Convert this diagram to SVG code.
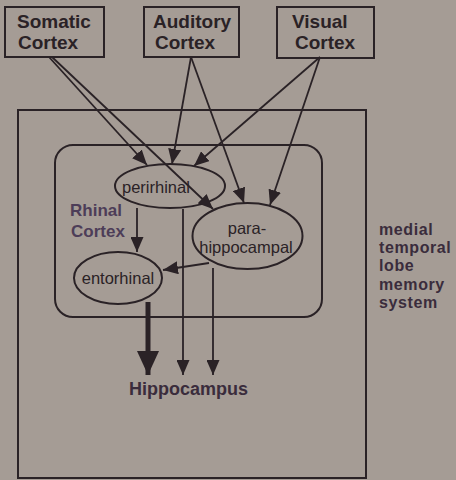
<svg xmlns="http://www.w3.org/2000/svg" width="456" height="480" viewBox="0 0 456 480">
  <style>
    .bg { fill: #a59c95; }
    .box { fill: none; stroke: #2a2226; stroke-width: 2; }
    .ell { fill: none; stroke: #2a2226; stroke-width: 2; }
    .lbl { font-family: "Liberation Sans", Arial, sans-serif; font-weight: bold; font-size: 19px; fill: #2a2226; }
    .area { font-family: "Liberation Sans", Arial, sans-serif; font-size: 16.5px; fill: #2a2226; }
    .rhinal { font-family: "Liberation Sans", Arial, sans-serif; font-weight: bold; font-size: 17px; fill: #4d3d58; }
    .mtl { font-family: "Liberation Sans", Arial, sans-serif; font-weight: bold; font-size: 16px; letter-spacing: 0.6px; fill: #3a2c3c; }
    .hip { font-family: "Liberation Sans", Arial, sans-serif; font-weight: bold; font-size: 18px; fill: #3a2c3c; }
    .link { stroke: #2a2226; stroke-width: 1.8; fill: none; marker-end: url(#arrow); }
    .thick { stroke: #2a2226; stroke-width: 5; fill: none; marker-end: url(#bigarrow); }
  </style>
  <defs>
    <marker id="arrow" viewBox="0 0 15 13" markerWidth="15" markerHeight="13" refX="15" refY="6.5" orient="auto" markerUnits="userSpaceOnUse">
      <path d="M0,0 L15,6.5 L0,13 z" fill="#2a2226"/>
    </marker>
    <marker id="bigarrow" viewBox="0 0 24 22" markerWidth="24" markerHeight="22" refX="24" refY="11" orient="auto" markerUnits="userSpaceOnUse">
      <path d="M0,0 L24,11 L0,22 z" fill="#2a2226"/>
    </marker>
  </defs>

  <rect class="bg" x="0" y="0" width="456" height="480"/>

  <!-- medial temporal lobe frame -->
  <g id="mtl-system">
    <rect class="box" x="18" y="110" width="348" height="368"/>
    <text class="mtl" x="379" y="235">medial</text>
    <text class="mtl" x="379" y="253">temporal</text>
    <text class="mtl" x="379" y="271">lobe</text>
    <text class="mtl" x="379" y="290">memory</text>
    <text class="mtl" x="379" y="308">system</text>
  </g>

  <!-- rhinal cortex region -->
  <g id="rhinal-cortex">
    <rect class="box" x="55" y="145" width="267" height="172" rx="18" ry="18"/>
    <text class="rhinal" x="70" y="216">Rhinal</text>
    <text class="rhinal" x="71" y="237">Cortex</text>
  </g>

  <!-- cortical inputs -->
  <g id="somatic-cortex">
    <rect class="box" x="5" y="7" width="99" height="50"/>
    <text class="lbl" x="17" y="28">Somatic</text>
    <text class="lbl" x="18" y="49">Cortex</text>
  </g>
  <g id="auditory-cortex">
    <rect class="box" x="144" y="7" width="95" height="50"/>
    <text class="lbl" x="153" y="28">Auditory</text>
    <text class="lbl" x="155" y="49">Cortex</text>
  </g>
  <g id="visual-cortex">
    <rect class="box" x="277" y="7" width="97" height="51"/>
    <text class="lbl" x="292" y="28">Visual</text>
    <text class="lbl" x="295" y="49">Cortex</text>
  </g>

  <!-- rhinal areas -->
  <g id="perirhinal">
    <ellipse class="ell" cx="170" cy="186" rx="55" ry="22"/>
    <text class="area" x="122" y="193">perirhinal</text>
  </g>
  <g id="parahippocampal">
    <ellipse class="ell" cx="247.5" cy="236" rx="55" ry="33"/>
    <text class="area" x="247" y="234" text-anchor="middle">para-</text>
    <text class="area" x="246" y="253" text-anchor="middle">hippocampal</text>
  </g>
  <g id="entorhinal">
    <ellipse class="ell" cx="118" cy="278" rx="44" ry="26"/>
    <text class="area" x="118" y="284" text-anchor="middle">entorhinal</text>
  </g>

  <g id="hippocampus">
    <text class="hip" x="129" y="395">Hippocampus</text>
  </g>

  <!-- projections -->
  <g id="connectors">
    <line class="link" x1="49" y1="57" x2="147" y2="165"/>
    <line class="link" x1="52" y1="57" x2="213" y2="209"/>
    <line class="link" x1="191" y1="57" x2="172" y2="164"/>
    <line class="link" x1="191" y1="57" x2="244" y2="203"/>
    <line class="link" x1="320" y1="57" x2="194" y2="166"/>
    <line class="link" x1="320" y1="57" x2="270" y2="205"/>
    <line class="link" x1="137" y1="208" x2="137" y2="252"/>
    <line class="link" x1="209" y1="263" x2="163" y2="270"/>
    <line class="link" x1="183" y1="209" x2="183" y2="375"/>
    <line class="link" x1="213" y1="268" x2="213" y2="375"/>
    <line class="thick" x1="148" y1="302" x2="148" y2="375"/>
  </g>
</svg>
